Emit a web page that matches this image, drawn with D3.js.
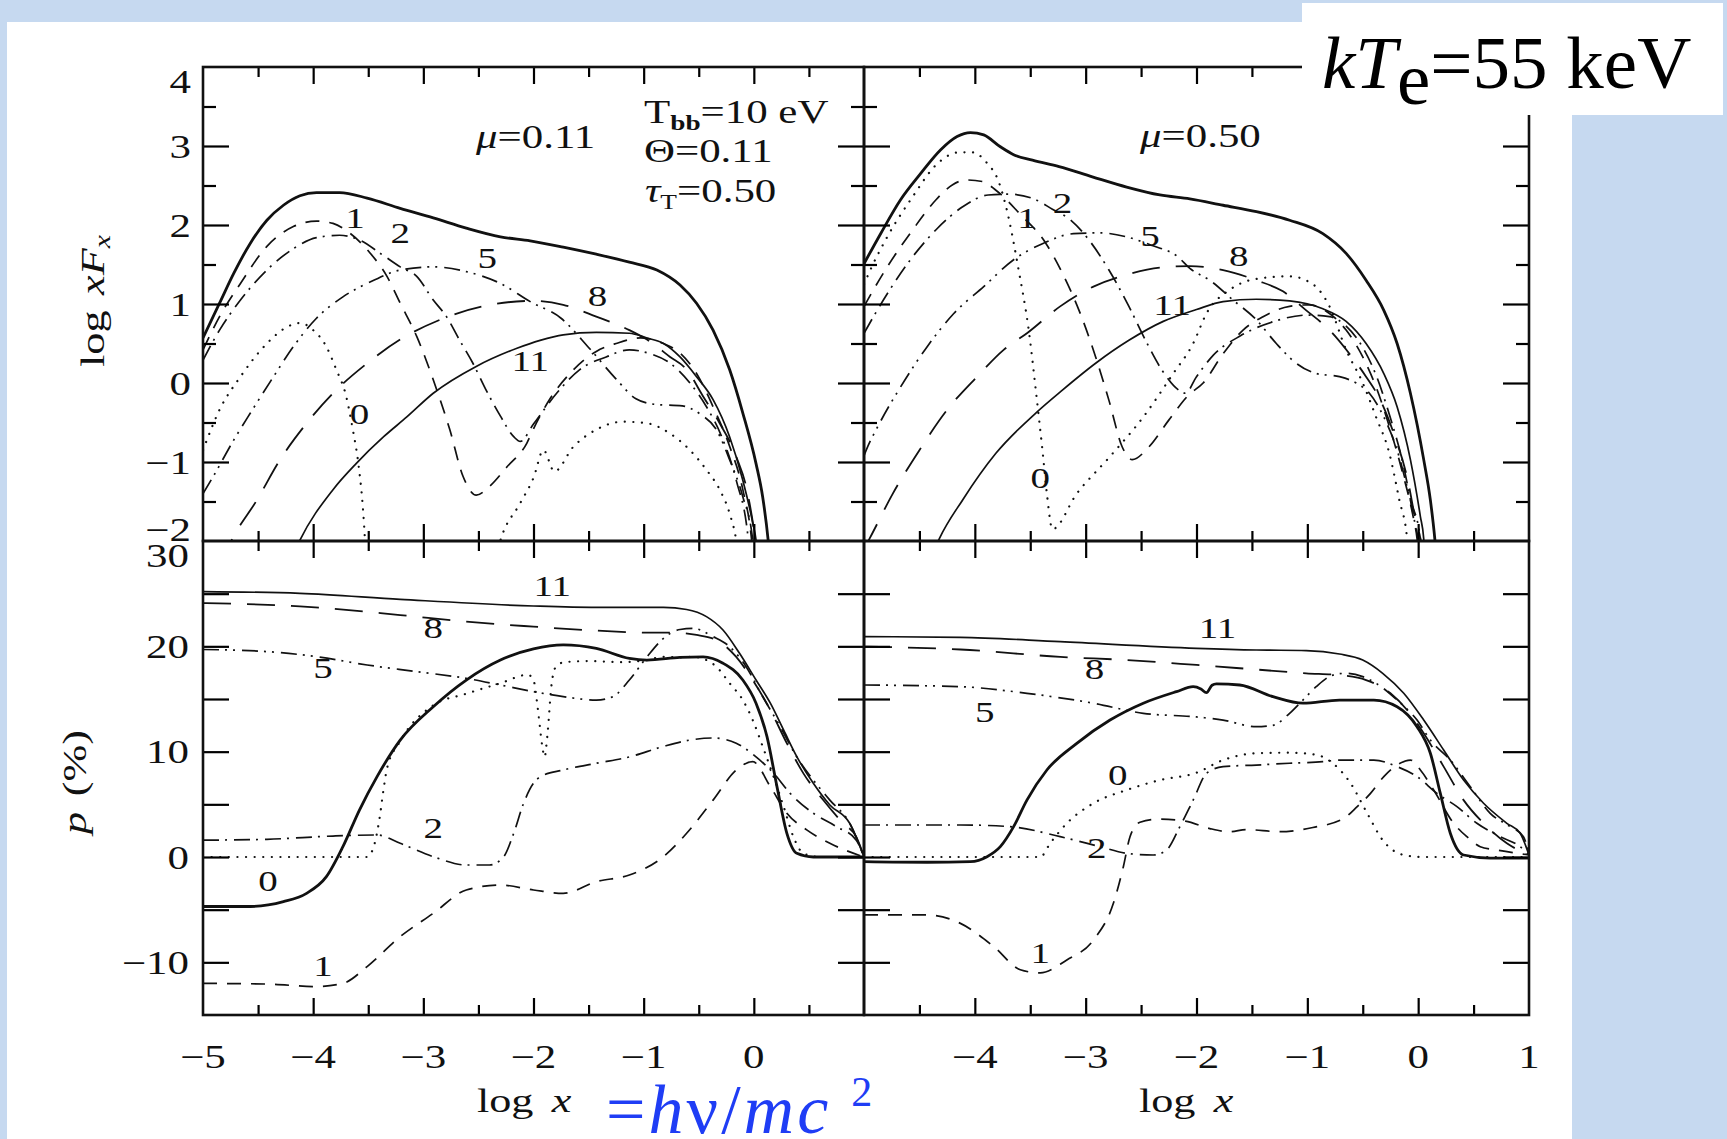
<!DOCTYPE html>
<html>
<head>
<meta charset="utf-8">
<script src="https://cdn.jsdelivr.net/npm/d3@7"></script>
<style>
	body { margin: 0; background: #c6d9f0; }
	svg { display: block; }
	text { font-family: "Liberation Serif", "Times New Roman", serif; fill: #111; }
</style>
</head>
<body>
<svg id="fig" width="1727" height="1139"></svg>
<script>
let W = 1727, H = 1139;

// axis ticks / labels
let xLabelsLeft = [-5, -4, -3, -2, -1, 0];
let xLabelsRight = [-4, -3, -2, -1, 0, 1];
let fluxLabels = [4, 3, 2, 1, 0, -1, -2];
let polLabels = [30, 20, 10, 0, -10];

// top left: log xF_x, mu = 0.11   ([log x, value])
let flux011_tot = [[-5,0.57],[-4.85,1.01],[-4.72,1.39],[-4.57,1.77],[-4.42,2.06],[-4.27,2.25],[-4.12,2.37],[-3.97,2.41],[-3.76,2.41],[-3.51,2.34],[-3.21,2.21],[-2.91,2.09],[-2.61,1.96],[-2.30,1.85],[-2.03,1.80],[-1.73,1.72],[-1.43,1.63],[-1.13,1.53],[-0.88,1.43],[-0.67,1.24],[-0.52,1.01],[-0.37,0.67],[-0.22,0.17],[-0.10,-0.38],[0.02,-1.02],[0.08,-1.44],[0.13,-1.99],[0.15,-2.3]];
let flux011_0 = [[-5,-0.85],[-4.85,-0.34],[-4.66,0.08],[-4.42,0.50],[-4.25,0.70],[-4.12,0.76],[-4.0,0.67],[-3.88,0.46],[-3.79,0.17],[-3.70,-0.17],[-3.64,-0.59],[-3.59,-1.02],[-3.55,-1.56],[-3.53,-1.99],[-3.52,-2.3], null,
	[-2.36,-2.3],[-2.30,-1.99],[-2.12,-1.52],[-2.0,-1.2],[-1.91,-0.85],[-1.81,-1.12],[-1.64,-0.81],[-1.43,-0.59],[-1.19,-0.49],[-0.97,-0.51],[-0.76,-0.64],[-0.58,-0.85],[-0.43,-1.10],[-0.31,-1.35],[-0.22,-1.65],[-0.16,-1.99],[-0.13,-2.3]];
let flux011_1 = [[-5,0.42],[-4.85,0.84],[-4.66,1.26],[-4.42,1.73],[-4.18,1.98],[-3.97,2.05],[-3.82,2.02],[-3.67,1.90],[-3.48,1.64],[-3.33,1.35],[-3.21,1.01],[-3.06,0.59],[-2.91,0.04],[-2.76,-0.59],[-2.64,-1.18],[-2.52,-1.42],[-2.40,-1.31],[-2.24,-1.06],[-2.06,-0.76],[-2.0,-0.58],[-1.85,-0.2],[-1.67,0.12],[-1.43,0.40],[-1.25,0.50],[-1.03,0.57],[-0.82,0.50],[-0.67,0.38],[-0.52,0.12],[-0.37,-0.30],[-0.22,-0.80],[-0.10,-1.35],[-0.02,-1.99],[0.0,-2.3]];
let flux011_2 = [[-5,0.29],[-4.85,0.67],[-4.66,1.05],[-4.42,1.43],[-4.18,1.70],[-3.97,1.84],[-3.76,1.87],[-3.58,1.81],[-3.39,1.64],[-3.21,1.47],[-3.06,1.35],[-2.91,1.05],[-2.79,0.84],[-2.67,0.54],[-2.55,0.25],[-2.43,-0.09],[-2.30,-0.42],[-2.18,-0.68],[-2.12,-0.74],[-2.0,-0.52],[-1.79,-0.13],[-1.58,0.17],[-1.34,0.33],[-1.13,0.42],[-0.94,0.37],[-0.76,0.25],[-0.58,0.0],[-0.43,-0.30],[-0.28,-0.72],[-0.16,-1.23],[-0.05,-1.99],[-0.03,-2.3]];
let flux011_5 = [[-5,-1.40],[-4.91,-1.19],[-4.72,-0.72],[-4.57,-0.38],[-4.36,0.08],[-4.18,0.46],[-3.97,0.82],[-3.73,1.09],[-3.45,1.30],[-3.21,1.43],[-2.91,1.47],[-2.61,1.41],[-2.30,1.26],[-2.03,1.03],[-1.75,0.82],[-1.5,0.45],[-1.25,0.05],[-1.07,-0.2],[-0.9,-0.27],[-0.65,-0.29],[-0.48,-0.40],[-0.34,-0.59],[-0.22,-0.97],[-0.10,-1.44],[-0.01,-1.99],[0.01,-2.3]];
let flux011_8 = [[-4.84,-2.3],[-4.74,-1.99],[-4.51,-1.48],[-4.30,-0.97],[-4.06,-0.51],[-3.82,-0.13],[-3.51,0.25],[-3.21,0.55],[-2.85,0.80],[-2.46,0.97],[-2.0,1.04],[-1.73,0.99],[-1.43,0.84],[-1.13,0.67],[-0.97,0.55],[-0.76,0.33],[-0.61,0.17],[-0.46,-0.17],[-0.31,-0.51],[-0.16,-0.93],[-0.05,-1.44],[0.01,-1.99],[0.03,-2.3]];
let flux011_11 = [[-4.22,-2.3],[-4.12,-1.99],[-3.82,-1.35],[-3.61,-1.02],[-3.36,-0.68],[-3.15,-0.43],[-2.91,-0.13],[-2.52,0.21],[-2.15,0.44],[-1.94,0.54],[-1.73,0.61],[-1.43,0.64],[-1.13,0.63],[-0.97,0.57],[-0.82,0.50],[-0.67,0.33],[-0.52,0.08],[-0.37,-0.21],[-0.22,-0.68],[-0.10,-1.23],[-0.01,-1.77],[0.02,-1.99],[0.04,-2.3]];
let flux011_tags = [["1",-3.62,2.10],["2",-3.21,1.90],["5",-2.42,1.59],["8",-1.42,1.11],["11",-2.03,0.29],["0",-3.58,-0.38]];

// top right: log xF_x, mu = 0.50
let flux050_tot = [[-5,1.51],[-4.85,1.89],[-4.67,2.32],[-4.49,2.65],[-4.31,2.95],[-4.16,3.12],[-4.04,3.17],[-3.92,3.14],[-3.77,2.99],[-3.65,2.89],[-3.48,2.82],[-3.24,2.74],[-2.94,2.61],[-2.63,2.48],[-2.33,2.38],[-2.06,2.33],[-1.76,2.25],[-1.46,2.17],[-1.16,2.06],[-0.86,1.89],[-0.65,1.64],[-0.47,1.30],[-0.31,0.92],[-0.19,0.50],[-0.07,-0.13],[0.05,-0.97],[0.11,-1.48],[0.15,-1.97],[0.17,-2.3]];
let flux050_0 = [[-5,1.25],[-4.93,1.47],[-4.79,1.85],[-4.56,2.36],[-4.35,2.76],[-4.14,2.92],[-4.02,2.92],[-3.90,2.80],[-3.78,2.53],[-3.69,2.06],[-3.61,1.47],[-3.51,0.63],[-3.45,-0.09],[-3.39,-0.85],[-3.35,-1.40],[-3.30,-1.85],[-3.08,-1.40],[-2.78,-0.93],[-2.48,-0.43],[-2.21,0.12],[-2.03,0.50],[-1.91,0.88],[-1.70,1.18],[-1.45,1.32],[-1.16,1.35],[-0.95,1.25],[-0.80,0.97],[-0.65,0.42],[-0.50,0.0],[-0.38,-0.43],[-0.26,-0.89],[-0.17,-1.48],[-0.10,-1.97],[-0.08,-2.3]];
let flux050_1 = [[-5,0.97],[-4.79,1.47],[-4.56,1.94],[-4.35,2.32],[-4.20,2.51],[-4.08,2.57],[-3.93,2.55],[-3.81,2.44],[-3.60,2.15],[-3.36,1.77],[-3.21,1.39],[-3.06,0.92],[-2.91,0.33],[-2.79,-0.22],[-2.67,-0.81],[-2.58,-0.97],[-2.43,-0.81],[-2.25,-0.47],[-2.07,-0.15],[-1.94,0.0],[-1.76,0.37],[-1.58,0.67],[-1.40,0.84],[-1.16,0.97],[-0.98,0.99],[-0.80,0.88],[-0.65,0.67],[-0.50,0.33],[-0.38,-0.05],[-0.26,-0.55],[-0.14,-1.14],[-0.04,-1.73],[-0.01,-1.97],[0.01,-2.3]];
let flux050_2 = [[-5,0.63],[-4.79,1.13],[-4.56,1.60],[-4.35,1.94],[-4.11,2.23],[-3.88,2.38],[-3.69,2.39],[-3.45,2.32],[-3.30,2.20],[-3.15,2.08],[-2.97,1.81],[-2.79,1.43],[-2.61,0.97],[-2.46,0.54],[-2.31,0.16],[-2.16,-0.09],[-2.10,-0.13],[-2.0,0.08],[-1.85,0.35],[-1.60,0.60],[-1.30,0.78],[-1.0,0.86],[-0.80,0.84],[-0.65,0.72],[-0.50,0.45],[-0.38,0.10],[-0.26,-0.40],[-0.14,-1.0],[-0.04,-1.7],[0.0,-2.0],[0.02,-2.3]];
let flux050_5 = [[-5,-0.92],[-4.98,-0.85],[-4.86,-0.51],[-4.67,-0.05],[-4.43,0.46],[-4.19,0.88],[-3.92,1.22],[-3.65,1.56],[-3.38,1.77],[-3.11,1.89],[-2.87,1.90],[-2.63,1.85],[-2.40,1.74],[-2.17,1.60],[-2.06,1.45],[-1.88,1.30],[-1.67,1.05],[-1.46,0.80],[-1.28,0.50],[-1.10,0.25],[-0.92,0.12],[-0.71,0.08],[-0.56,0.0],[-0.44,-0.13],[-0.31,-0.43],[-0.19,-0.85],[-0.07,-1.48],[0.02,-1.97],[0.04,-2.3]];
let flux050_8 = [[-5,-2.1],[-4.95,-1.97],[-4.74,-1.40],[-4.50,-0.85],[-4.25,-0.34],[-3.98,0.08],[-3.74,0.42],[-3.53,0.63],[-3.23,0.97],[-2.93,1.22],[-2.63,1.37],[-2.33,1.46],[-2.06,1.48],[-1.76,1.43],[-1.46,1.30],[-1.22,1.16],[-1.01,0.92],[-0.80,0.67],[-0.62,0.37],[-0.47,0.08],[-0.34,-0.22],[-0.22,-0.64],[-0.10,-1.19],[-0.01,-1.82],[0.02,-1.97],[0.04,-2.3]];
let flux050_11 = [[-4.42,-2.3],[-4.32,-1.97],[-4.11,-1.48],[-3.81,-0.89],[-3.45,-0.38],[-3.21,-0.09],[-2.91,0.25],[-2.61,0.54],[-2.30,0.78],[-2.0,0.93],[-1.76,1.03],[-1.46,1.06],[-1.16,1.04],[-0.86,0.94],[-0.65,0.78],[-0.47,0.50],[-0.31,0.12],[-0.19,-0.30],[-0.07,-0.97],[0.02,-1.69],[0.05,-1.97],[0.06,-2.3]];
let flux050_tags = [["1",-3.53,2.10],["2",-3.21,2.29],["5",-2.42,1.87],["8",-1.62,1.62],["11",-2.22,0.99],["0",-3.41,-1.19]];

// bottom left: p (%), mu = 0.11
let pol011_tot = [[-5,-4.7],[-4.57,-4.7],[-4.27,-4.24],[-4.06,-3.45],[-3.88,-1.87],[-3.73,0.98],[-3.58,4.46],[-3.42,7.63],[-3.21,11.1],[-2.91,14.27],[-2.61,16.8],[-2.30,18.7],[-2.0,19.75],[-1.73,20.13],[-1.43,19.8],[-1.13,18.86],[-0.97,18.7],[-0.67,18.95],[-0.46,19.0],[-0.28,18.4],[-0.10,16.8],[0.02,14.6],[0.12,11.4],[0.21,6.68],[0.30,2.25],[0.39,0.35],[0.54,0],[1.0,0]];
let pol011_0 = [[-5,0],[-3.51,0],[-3.45,1.0],[-3.40,3.5],[-3.36,6.5],[-3.33,8.4],[-3.21,11.0],[-2.91,14.4],[-2.61,15.5],[-2.30,16.5],[-2.05,17.3],[-2.0,16.8],[-1.96,14.0],[-1.92,10.5],[-1.90,9.5],[-1.87,12.0],[-1.84,16.0],[-1.80,18.0],[-1.72,18.5],[-1.5,18.6],[-1.2,18.5],[-0.97,18.7],[-0.82,19.0],[-0.67,18.95],[-0.55,19.0],[-0.43,18.7],[-0.34,18.07],[-0.22,16.5],[-0.10,14.9],[-0.01,13.0],[0.08,10.5],[0.18,7.6],[0.27,4.8],[0.36,1.9],[0.45,0.35],[0.6,0],[1.0,0]];
let pol011_1 = [[-5,-12.0],[-4.42,-12.06],[-3.97,-12.3],[-3.73,-12.0],[-3.51,-10.4],[-3.21,-7.56],[-2.91,-5.35],[-2.61,-3.13],[-2.30,-2.66],[-2.0,-3.13],[-1.73,-3.45],[-1.43,-2.34],[-1.13,-1.71],[-0.82,0.03],[-0.61,2.25],[-0.37,5.4],[-0.16,8.26],[-0.01,9.05],[0.15,6.68],[0.30,4.15],[0.48,2.57],[0.69,1.3],[1.0,0]];
let pol011_2 = [[-5,1.6],[-4.42,1.68],[-3.82,1.99],[-3.42,2.09],[-3.21,1.3],[-2.91,0.03],[-2.61,-0.76],[-2.40,-0.76],[-2.27,0.03],[-2.18,2.25],[-2.09,5.1],[-2.0,7.0],[-1.94,7.6],[-1.73,8.26],[-1.43,8.9],[-1.13,9.5],[-0.82,10.5],[-0.58,11.1],[-0.37,11.3],[-0.16,10.8],[0.02,9.5],[0.18,7.94],[0.33,6.04],[0.54,4.15],[0.75,2.88],[0.93,1.6],[1.0,0]];
let pol011_5 = [[-5,19.7],[-4.42,19.5],[-3.97,19.02],[-3.51,18.23],[-3.06,17.6],[-2.61,16.96],[-2.30,16.33],[-2.0,15.7],[-1.73,15.22],[-1.43,14.9],[-1.28,15.22],[-1.13,16.8],[-0.97,19.0],[-0.82,20.76],[-0.67,21.6],[-0.55,21.7],[-0.37,20.92],[-0.22,19.97],[-0.07,18.07],[0.08,15.22],[0.24,12.37],[0.39,9.5],[0.54,7.3],[0.69,5.4],[0.87,3.2],[1.0,0]];
let pol011_8 = [[-5,24.1],[-4.12,23.8],[-3.21,22.97],[-2.61,22.34],[-2.0,21.87],[-1.43,21.49],[-0.97,21.3],[-0.76,21.3],[-0.52,21.08],[-0.34,20.6],[-0.16,19.0],[-0.01,16.8],[0.15,13.96],[0.30,10.79],[0.45,7.94],[0.63,5.41],[0.81,3.2],[0.93,1.9],[1.0,0]];
let pol011_11 = [[-5,25.2],[-4.12,25.03],[-3.21,24.46],[-2.0,23.83],[-1.43,23.7],[-0.82,23.7],[-0.61,23.5],[-0.43,22.82],[-0.28,21.55],[-0.13,19.34],[0.02,16.8],[0.15,14.6],[0.27,12.06],[0.39,9.53],[0.54,7.0],[0.69,4.94],[0.87,3.2],[1.0,0]];
let pol011_tags = [["11",-1.83,25.8],["8",-2.91,21.8],["5",-3.91,18.0],["2",-2.91,2.8],["0",-4.41,-2.2],["1",-3.91,-10.3]];

// bottom right: p (%), mu = 0.50
let pol050_tot = [[-5,-0.44],[-4.43,-0.5],[-4.04,-0.44],[-3.89,0.03],[-3.77,0.98],[-3.65,2.88],[-3.53,5.4],[-3.35,8.26],[-3.08,10.79],[-2.78,13.0],[-2.48,14.6],[-2.18,15.7],[-2.03,16.17],[-1.96,15.95],[-1.91,15.6],[-1.86,16.3],[-1.82,16.43],[-1.61,16.33],[-1.31,15.22],[-1.04,14.6],[-0.71,14.9],[-0.40,14.9],[-0.19,14.27],[-0.01,12.37],[0.11,9.85],[0.20,6.04],[0.29,2.25],[0.41,0.19],[0.65,-0.1],[1.0,-0.1]];
let pol050_0 = [[-5,0],[-3.41,0],[-3.32,1.3],[-3.17,3.2],[-2.93,5.1],[-2.63,6.36],[-2.33,7.3],[-2.0,8.0],[-1.76,9.2],[-1.46,9.85],[-1.16,9.9],[-0.92,9.7],[-0.77,8.9],[-0.61,7.0],[-0.46,4.15],[-0.32,1.6],[-0.13,0.19],[0.05,0],[1.0,0]];
let pol050_1 = [[-5,-5.5],[-4.43,-5.5],[-4.13,-6.3],[-3.83,-8.5],[-3.59,-10.7],[-3.41,-11.0],[-3.17,-9.78],[-2.93,-7.88],[-2.75,-4.4],[-2.66,-0.92],[-2.60,1.93],[-2.51,3.3],[-2.33,3.6],[-2.1,3.4],[-1.88,2.7],[-1.7,2.4],[-1.55,2.6],[-1.25,2.4],[-0.95,2.8],[-0.67,3.67],[-0.55,4.78],[-0.43,6.04],[-0.31,7.63],[-0.19,8.73],[-0.07,9.2],[0.02,8.26],[0.14,6.36],[0.32,3.2],[0.44,1.93],[0.56,0.98],[0.71,0.66],[1.0,0.2]];
let pol050_2 = [[-5,3.04],[-4.13,3.04],[-3.68,2.88],[-3.23,1.93],[-2.87,0.98],[-2.63,0.35],[-2.39,0.19],[-2.27,0.66],[-2.15,2.88],[-2.03,5.4],[-1.91,7.94],[-1.76,8.58],[-1.46,8.73],[-1.16,8.9],[-0.86,9.05],[-0.71,9.2],[-0.40,9.2],[-0.19,8.58],[-0.01,7.63],[0.17,6.04],[0.35,4.78],[0.53,3.2],[0.74,1.93],[0.92,0.98],[1.0,0.2]];
let pol050_5 = [[-5,16.33],[-4.13,16.17],[-3.53,15.54],[-2.93,14.6],[-2.48,13.64],[-2.0,13.3],[-1.76,13.0],[-1.46,12.37],[-1.31,12.5],[-1.16,13.64],[-1.04,14.9],[-0.92,16.17],[-0.77,17.27],[-0.65,17.44],[-0.50,17.12],[-0.38,16.49],[-0.19,14.9],[-0.01,13.0],[0.11,11.1],[0.29,9.2],[0.47,6.68],[0.65,4.15],[0.83,2.88],[0.95,1.93],[1.0,0.2]];
let pol050_8 = [[-5,19.97],[-4.13,19.7],[-3.23,19.0],[-2.63,18.7],[-2.0,18.23],[-1.46,17.8],[-1.01,17.44],[-0.71,17.27],[-0.47,16.8],[-0.25,15.54],[-0.10,13.96],[0.05,11.74],[0.23,8.58],[0.41,5.4],[0.59,3.2],[0.80,1.3],[1.0,0.2]];
let pol050_11 = [[-5,20.92],[-4.13,20.86],[-3.23,20.44],[-2.0,19.81],[-1.46,19.65],[-1.01,19.6],[-0.71,19.27],[-0.50,18.7],[-0.32,17.44],[-0.13,15.54],[0.05,13.0],[0.23,10.16],[0.41,7.3],[0.59,5.1],[0.80,3.2],[0.92,2.25],[1.0,0.2]];
let pol050_tags = [["11",-1.81,21.8],["8",-2.92,17.9],["5",-3.91,13.8],["0",-2.71,7.8],["2",-2.90,0.9],["1",-3.41,-9.1]];

// ---------------------------------------------------------------
let svg = d3.select("#fig");
let L = 203, M = 864, R = 1529, T = 67, HM = 541, B = 1015;
let sx = 1.3; // the figure font is wide

let xA = d3.scaleLinear().domain([-5, 1]).range([L, M]);
let xB = d3.scaleLinear().domain([-5, 1]).range([M, R]);
let yF = d3.scaleLinear().domain([-2, 4]).range([HM, T]);
let yP = d3.scaleLinear().domain([-15, 30]).range([B, HM]);

let styles = {
	tot: { w: 2.8, dash: null },
	"0": { w: 2.2, dash: "0.1,8.5", cap: "round" },
	"1": { w: 1.7, dash: "14,10" },
	"2": { w: 1.7, dash: "16,6,2,7" },
	"5": { w: 1.7, dash: "16,6,2,6,2,7" },
	"8": { w: 1.8, dash: "28,16" },
	"11": { w: 1.7, dash: null }
};

svg.append("rect").attr("width", W).attr("height", H).attr("fill", "#c6d9f0");
svg.append("rect").attr("x", 7).attr("y", 22).attr("width", 1565).attr("height", H - 22).attr("fill", "#fff");

let panels = [
	{ id: "tl", x: xA, y: yF, c: [flux011_tot, flux011_0, flux011_1, flux011_2, flux011_5, flux011_8, flux011_11], tags: flux011_tags, flux: true },
	{ id: "tr", x: xB, y: yF, c: [flux050_tot, flux050_0, flux050_1, flux050_2, flux050_5, flux050_8, flux050_11], tags: flux050_tags, flux: true },
	{ id: "bl", x: xA, y: yP, c: [pol011_tot, pol011_0, pol011_1, pol011_2, pol011_5, pol011_8, pol011_11], tags: pol011_tags, flux: false },
	{ id: "br", x: xB, y: yP, c: [pol050_tot, pol050_0, pol050_1, pol050_2, pol050_5, pol050_8, pol050_11], tags: pol050_tags, flux: false }
];
let keys = ["tot", "0", "1", "2", "5", "8", "11"];

function wideText(g, x, y, size) {
	return g.append("text")
		.attr("transform", `translate(${x},${y}) scale(${sx},1)`)
		.style("font-size", size + "px");
}

let defs = svg.append("defs");

panels.forEach(p => {
	let [x0, x1] = p.x.range();
	let [y1, y0] = p.y.range();
	defs.append("clipPath").attr("id", "clip-" + p.id)
		.append("rect").attr("x", x0).attr("y", y0).attr("width", x1 - x0).attr("height", y1 - y0);

	let g = svg.append("g");
	let line = d3.line()
		.defined(d => d != null)
		.x(d => p.x(d[0]))
		.y(d => p.y(d[1]))
		.curve(d3.curveMonotoneX);

	g.append("g").attr("clip-path", `url(#clip-${p.id})`)
		.selectAll("path")
		.data(p.c)
		.join("path")
			.attr("d", d => line(d))
			.attr("fill", "none")
			.attr("stroke", "#111")
			.attr("stroke-width", (d, i) => styles[keys[i]].w)
			.attr("stroke-dasharray", (d, i) => styles[keys[i]].dash)
			.attr("stroke-linecap", (d, i) => styles[keys[i]].cap || "butt")
			.attr("stroke-linejoin", "round");

	// order numbers on the curves
	p.tags.forEach(t => {
		wideText(g, p.x(t[1]), p.y(t[2]), 30)
			.attr("text-anchor", "middle")
			.attr("dy", "0.35em")
			.text(t[0]);
	});

	// ticks on all four sides, pointing in
	let xMaj = [-4, -3, -2, -1, 0];
	let xMin = [-4.5, -3.5, -2.5, -1.5, -0.5, 0.5];
	let yMaj = p.flux ? [-1, 0, 1, 2, 3] : [-10, -5, 0, 5, 10, 15, 20, 25];
	let yMin = p.flux ? [-1.5, -0.5, 0.5, 1.5, 2.5, 3.5] : [];
	let clean = s => { s.select(".domain").remove(); s.selectAll("line").attr("stroke-width", 2.2); s.selectAll("text").remove(); };

	[[xMaj, 17], [xMin, 10]].forEach(([v, len]) => {
		g.append("g").attr("transform", `translate(0,${y1})`)
			.call(d3.axisBottom(p.x).tickValues(v).tickSize(-len)).call(clean);
		g.append("g").attr("transform", `translate(0,${y0})`)
			.call(d3.axisTop(p.x).tickValues(v).tickSize(-len)).call(clean);
	});
	[[yMaj, 26], [yMin, 13]].forEach(([v, len]) => {
		if (!v.length) return;
		g.append("g").attr("transform", `translate(${x0},0)`)
			.call(d3.axisLeft(p.y).tickValues(v).tickSize(-len)).call(clean);
		g.append("g").attr("transform", `translate(${x1},0)`)
			.call(d3.axisRight(p.y).tickValues(v).tickSize(-len)).call(clean);
	});

	g.append("rect").attr("x", x0).attr("y", y0).attr("width", x1 - x0).attr("height", y1 - y0)
		.attr("fill", "none").attr("stroke", "#111").attr("stroke-width", 2.6);
});

let minus = v => v < 0 ? "\u2212" + Math.abs(v) : String(v);

// tick labels
let lab = svg.append("g");
fluxLabels.forEach((v, i) => {
	let shift = i == 0 ? 14 : (i == fluxLabels.length - 1 ? -12 : 0);
	wideText(lab, L - 12, yF(v) + shift, 33).attr("text-anchor", "end").attr("dy", "0.35em").text(minus(v));
});
polLabels.forEach((v, i) => {
	let shift = i == 0 ? 14 : 0;
	wideText(lab, L - 14, yP(v) + shift, 33).attr("text-anchor", "end").attr("dy", "0.35em").text(minus(v));
});
xLabelsLeft.forEach(v => wideText(lab, xA(v), 1068, 33).attr("text-anchor", "middle").text(minus(v)));
xLabelsRight.forEach(v => wideText(lab, xB(v), 1068, 33).attr("text-anchor", "middle").text(minus(v)));

// axis titles
let t1 = lab.append("text").attr("transform", `translate(104,301) rotate(-90) scale(${sx},1)`)
	.attr("text-anchor", "middle").style("font-size", "34px");
t1.append("tspan").text("log");
t1.append("tspan").attr("dx", 12).style("font-style", "italic").text("xF");
t1.append("tspan").attr("dy", 6).style("font-style", "italic").style("font-size", "23px").text("x");

let t2 = lab.append("text").attr("transform", `translate(86,782) rotate(-90) scale(${sx},1)`)
	.attr("text-anchor", "middle").style("font-size", "34px");
t2.append("tspan").style("font-style", "italic").text("p");
t2.append("tspan").attr("dx", 12).text("(%)");

[[477, 1112], [1139, 1112]].forEach(([x, y]) => {
	let t = wideText(lab, x, y, 34);
	t.append("tspan").text("log");
	t.append("tspan").attr("dx", 14).style("font-style", "italic").text("x");
});

// parameter annotations
let a1 = wideText(lab, 476, 148, 33);
a1.append("tspan").style("font-style", "italic").text("\u03bc");
a1.append("tspan").text("=0.11");
let a2 = wideText(lab, 644, 123, 33);
a2.append("tspan").text("T");
a2.append("tspan").attr("dy", 7).style("font-size", "21px").style("font-weight", "bold").text("bb");
a2.append("tspan").attr("dy", -7).text("=10 eV");
let a3 = wideText(lab, 644, 162, 33);
a3.append("tspan").text("\u0398=0.11");
let a4 = wideText(lab, 645, 202, 33);
a4.append("tspan").style("font-style", "italic").text("\u03c4");
a4.append("tspan").attr("dy", 7).style("font-size", "21px").text("T");
a4.append("tspan").attr("dy", -7).text("=0.50");
let a5 = wideText(lab, 1140, 147, 33);
a5.append("tspan").style("font-style", "italic").text("\u03bc");
a5.append("tspan").text("=0.50");

// slide overlays
svg.append("rect").attr("x", 1302).attr("y", 3).attr("width", 421).attr("height", 112).attr("fill", "#fff");
let k = svg.append("text").attr("x", 1322).attr("y", 88).style("font-size", "75px").style("fill", "#000");
k.append("tspan").style("font-style", "italic").text("kT");
k.append("tspan").attr("dy", 16).text("e");
k.append("tspan").attr("dy", -16).text("=55 keV");

let b = svg.append("text").attr("x", 606).attr("y", 1133).style("font-size", "70px")
	.style("letter-spacing", "3px").style("fill", "#1f3df5");
b.append("tspan").text("=");
b.append("tspan").style("font-style", "italic").text("h");
b.append("tspan").text("\u03bd/");
b.append("tspan").style("font-style", "italic").text("mc");
b.append("tspan").attr("dx", 20).attr("dy", -27).style("font-size", "42px").text("2");
</script>
</body>
</html>
